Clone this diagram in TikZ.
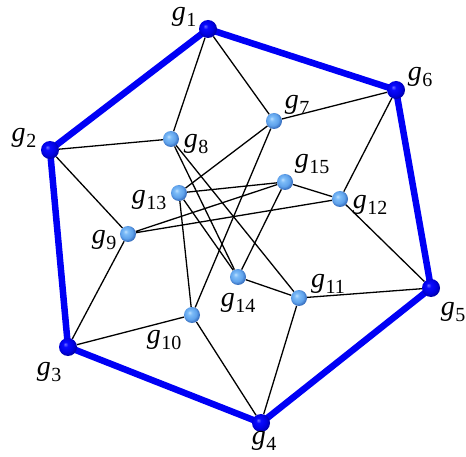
\documentclass[tikz,border=0pt]{standalone}
\usepackage{fontspec}
\setmainfont{Liberation Serif}
\usepackage{xcolor}
\usepackage{tikz}
\usetikzlibrary{positioning, shadings, backgrounds}

\definecolor{rimblue}{RGB}{0,0,245}
\definecolor{ob0}{RGB}{110,110,255}
\definecolor{ob1}{RGB}{10,10,255}
\definecolor{ob2}{RGB}{0,0,225}
\definecolor{ob3}{RGB}{0,0,170}
\definecolor{ib0}{RGB}{190,225,255}
\definecolor{ib1}{RGB}{125,188,248}
\definecolor{ib2}{RGB}{95,162,235}
\definecolor{ib3}{RGB}{55,110,190}

\pgfdeclareradialshading{outerball}{\pgfpoint{-8bp}{8bp}}{color(0bp)=(ob0); color(7bp)=(ob1); color(20bp)=(ob2); color(27bp)=(ob3); color(50bp)=(ob3)}
\pgfdeclareradialshading{innerball}{\pgfpoint{-8bp}{8bp}}{color(0bp)=(ib0); color(7bp)=(ib1); color(19bp)=(ib2); color(27bp)=(ib3); color(50bp)=(ib3)}

\newcommand{\glab}[1]{\textit{g}\kern0.5pt\raisebox{-0.24em}{\fontsize{20}{20}\selectfont #1}}

\begin{document}
\begin{tikzpicture}[
        x=1pt, y=-1pt,
        font=\fontsize{28}{28}\selectfont,
        outer/.style={circle, inner sep=0pt, minimum size=18pt, shading=outerball},
        inner/.style={circle, inner sep=0pt, minimum size=16pt, shading=innerball},
        rim/.style={line width=6.5pt, rimblue, line join=round},
        link/.style={line width=1.3pt, black},
        tag/.style={inner sep=0pt},
    ]
    \useasboundingbox (0,0) rectangle (466,457);

    % Outer vertices
    \node[outer] (g1) at (208,29) {};
    \node[outer] (g6) at (396,90) {};
    \node[outer] (g5) at (431,288) {};
    \node[outer] (g4) at (261,423) {};
    \node[outer] (g3) at (68,347) {};
    \node[outer] (g2) at (50,150) {};

    % Inner vertices
    \node[inner] (g7) at (274,121) {};
    \node[inner] (g8) at (171,139) {};
    \node[inner] (g15) at (285,182) {};
    \node[inner] (g12) at (340,199) {};
    \node[inner] (g13) at (179,193) {};
    \node[inner] (g9) at (128,234) {};
    \node[inner] (g14) at (238,277) {};
    \node[inner] (g11) at (299,298) {};
    \node[inner] (g10) at (192,315) {};

    % Labels
    \node[tag] (l1) at (184,17) {\glab{1}};
    \node[tag] (l6) at (420,77) {\glab{6}};
    \node[tag] (l5) at (453,312) {\glab{5}};
    \node[tag] (l4) at (264,441) {\glab{4}};
    \node[tag] (l3) at (49,372) {\glab{3}};
    \node[tag] (l2) at (24,138) {\glab{2}};
    \node[tag] (l7) at (297,105) {\glab{7}};
    \node[tag] (l8) at (196,144) {\glab{8}};
    \node[tag] (l15) at (312,164) {\glab{15}};
    \node[tag] (l12) at (370,205) {\glab{12}};
    \node[tag] (l13) at (149,200) {\glab{13}};
    \node[tag] (l9) at (104,240) {\glab{9}};
    \node[tag] (l14) at (238,303) {\glab{14}};
    \node[tag] (l11) at (328,284) {\glab{11}};
    \node[tag] (l10) at (164,340) {\glab{10}};

    \begin{scope}[on background layer]
    % Hexagon
    \draw[rim] (g1.center) -- (g6.center) -- (g5.center) -- (g4.center) -- (g3.center) -- (g2.center) -- cycle;

    % Spokes and inner edges
    \draw[link] (g1) -- (g8) (g1) -- (g7);
    \draw[link] (g6) -- (g7) (g6) -- (g12);
    \draw[link] (g2) -- (g8) (g2) -- (g9);
    \draw[link] (g3) -- (g9) (g3) -- (g10);
    \draw[link] (g4) -- (g10) (g4) -- (g11);
    \draw[link] (g5) -- (g12) (g5) -- (g11);
    \draw[link] (g7) -- (g13) (g7) -- (g10);
    \draw[link] (g8) -- (g14) (g8) -- (g11);
    \draw[link] (g13) -- (g15) (g13) -- (g14) (g13) -- (g10);
    \draw[link] (g9) -- (g15) (g9) -- (g12);
    \draw[link] (g15) -- (g12) (g15) -- (g14);
    \draw[link] (g14) -- (g11);
    \end{scope}

    \end{tikzpicture}
\end{document}
